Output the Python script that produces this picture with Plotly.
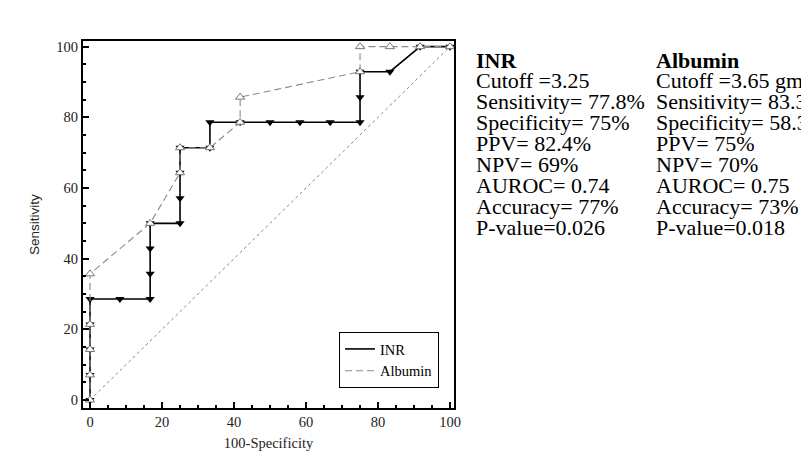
import plotly.graph_objects as go

# ---- data ----
inr_x = [0, 0, 0, 0, 0, 8.3, 16.7, 16.7, 16.7, 16.7, 25, 25, 25, 25, 33.3, 33.3,
         41.7, 50, 58.3, 66.7, 75, 75, 75, 83.3, 91.7, 100]
inr_y = [0, 7.1, 14.3, 21.4, 28.6, 28.6, 28.6, 35.7, 42.9, 50, 50, 57.1, 64.3, 71.4,
         71.4, 78.6, 78.6, 78.6, 78.6, 78.6, 78.6, 85.7, 92.9, 92.9, 100, 100]

alb_x = [0, 0, 0, 0, 0, 16.7, 25, 25, 33.3, 41.7, 41.7, 75, 75, 83.3, 91.7, 100]
alb_y = [0, 7.1, 14.3, 21.4, 35.7, 50, 64.3, 71.4, 71.4, 78.6, 85.7, 92.9, 100, 100, 100, 100]

diag_x = [0, 100]
diag_y = [0, 100]

x_ticks = [0, 20, 40, 60, 80, 100]
y_ticks = [0, 20, 40, 60, 80, 100]

inr_stats = ["INR", "Cutoff =3.25", "Sensitivity= 77.8%", "Specificity= 75%",
             "PPV= 82.4%", "NPV= 69%", "AUROC= 0.74", "Accuracy= 77%", "P-value=0.026"]
alb_stats = ["Albumin", "Cutoff =3.65 gm/dl", "Sensitivity= 83.3%", "Specificity= 58.3%",
             "PPV= 75%", "NPV= 70%", "AUROC= 0.75", "Accuracy= 73%", "P-value=0.018"]

SERIF = "Liberation Serif, Times New Roman, serif"

fig = go.Figure()

fig.add_trace(go.Scatter(x=diag_x, y=diag_y, mode="lines",
                         line=dict(color="#888888", width=1, dash="dot"),
                         showlegend=False, hoverinfo="skip"))

fig.add_trace(go.Scatter(x=inr_x, y=inr_y, mode="lines+markers",
                         line=dict(color="black", width=1.6),
                         marker=dict(symbol="triangle-down", size=8, color="black"),
                         showlegend=False))

fig.add_trace(go.Scatter(x=alb_x, y=alb_y, mode="lines+markers",
                         line=dict(color="#8a8a8a", width=1.1, dash="7px,4px"),
                         marker=dict(symbol="triangle-up", size=8, color="white",
                                     line=dict(color="#777777", width=1)),
                         showlegend=False))

# legend-only entries (lines without markers, as in the reference)
fig.add_trace(go.Scatter(x=[None], y=[None], mode="lines", name="INR",
                         line=dict(color="black", width=1.6)))
fig.add_trace(go.Scatter(x=[None], y=[None], mode="lines", name="Albumin",
                         line=dict(color="#8a8a8a", width=1.1, dash="7px,4px")))

# page has an 8px body margin; work in reference pixels and shift
OFF = 8
W, H = 809, 452 - OFF
L, R, T, B = 83 - OFF, 454 - OFF, 41 - OFF, 408 - OFF
pw, ph = R - L, B - T

def px_to_paper_x(px):
    return (px - OFF - L) / pw

def px_to_paper_y(py):
    return (B - (py - OFF)) / ph

annotations = []
for i, (a, b) in enumerate(zip(inr_stats, alb_stats)):
    ypx = 60 + i * 20.9
    for txt, xpx in ((a, 474), (b, 654)):
        annotations.append(dict(
            x=px_to_paper_x(xpx), y=px_to_paper_y(ypx), xref="paper", yref="paper",
            text=("<b>%s</b>" % txt) if i == 0 else txt,
            showarrow=False, xanchor="left", yanchor="middle",
            font=dict(family=SERIF, size=22, color="black")))

axis_common = dict(
    showline=True, linecolor="black", linewidth=2, mirror=True,
    ticks="inside", ticklen=6, tickwidth=2, tickcolor="black",
    showgrid=False, zeroline=False,
    tickfont=dict(family=SERIF, size=14.5, color="#222222"),
    minor=dict(ticks="inside", ticklen=3, tickwidth=1.5, dtick=5, tickcolor="black", showgrid=False),
)

fig.update_layout(
    width=W, height=H,
    margin=dict(l=L, r=W - R, t=T, b=H - B, autoexpand=False),
    paper_bgcolor="white", plot_bgcolor="white",
    xaxis=dict(range=[-1.95, 101.1], tickvals=x_ticks,
               title=dict(text="100-Specificity", standoff=8,
                          font=dict(family=SERIF, size=14.5, color="#222222")),
               **axis_common),
    yaxis=dict(range=[-2.26, 101.6], tickvals=y_ticks,
               title=dict(text="Sensitivity", standoff=14,
                          font=dict(family="Liberation Sans, Arial, sans-serif", size=13.5, color="#222222")),
               **axis_common),
    legend=dict(x=px_to_paper_x(439), y=px_to_paper_y(388), xanchor="right", yanchor="bottom",
                bordercolor="black", borderwidth=1, bgcolor="white",
                font=dict(family=SERIF, size=14.5, color="black"),
                itemwidth=30, tracegroupgap=0),
    annotations=annotations,
)

fig.write_html("out.html")
